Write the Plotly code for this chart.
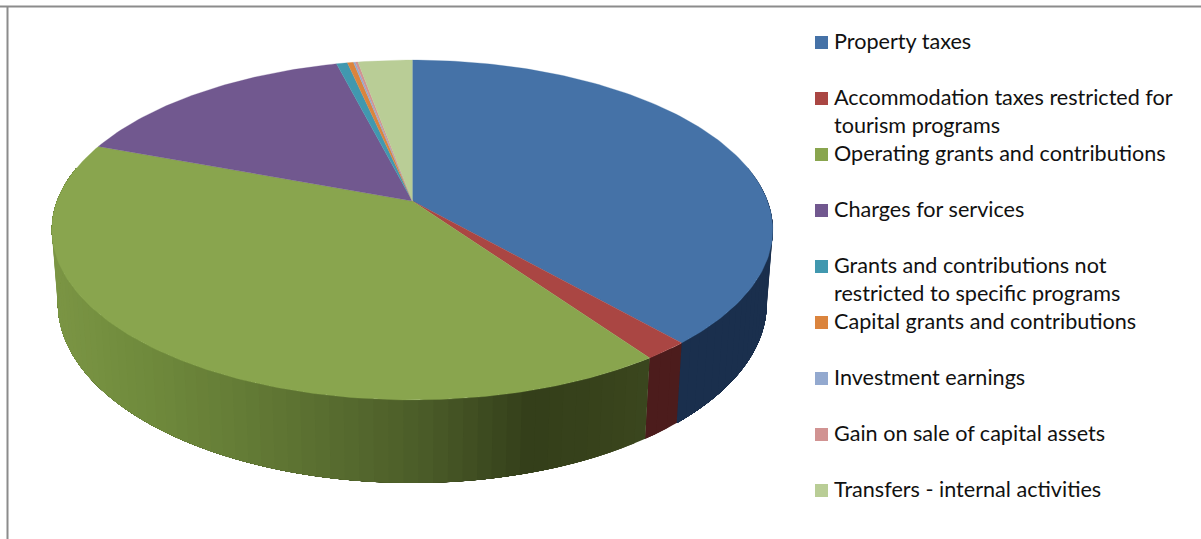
import numpy as np
import plotly.graph_objects as go

categories = ["Property taxes",
              "Accommodation taxes restricted for<br>tourism programs",
              "Operating grants and contributions",
              "Charges for services",
              "Grants and contributions not<br>restricted to specific programs",
              "Capital grants and contributions",
              "Investment earnings",
              "Gain on sale of capital assets",
              "Transfers - internal activities"]
values = [38.5, 1.75, 40.45, 15.3, 0.58, 0.32, 0.1, 0.14, 2.86]
colors = ["#4572A7", "#AA4643", "#89A54E", "#71588F", "#4198AF",
          "#DB843D", "#93A9CF", "#D19392", "#B9CD96"]
wall_base = {0: [(680, "#1A2F4D"), (775, "#1A2F4D")],
             1: [(640, "#4C1C1C"), (690, "#4C1C1C")],
             2: [(50, "#7C9645"), (130, "#728D3E"), (230, "#667E37"), (330, "#596D30"),
                 (430, "#4A5B28"), (530, "#343F1A"), (600, "#38431C"), (660, "#3C481F")]}
legend_y = [42.5, 98.5, 154.5, 210.5, 266.5, 322.5, 378.5, 434.5, 490.5]
text_y = [40.5, 110.5, 152.5, 208.5, 278.5, 320.5, 376.5, 432.5, 488.5]

# Projection of the tilted disc
CX, CY, B, A, P = 412.3, 201.0, 355.2, 165.0, 0.1706
Q, H = 0.0165, 73.5


def top(t):
    X, Y = np.sin(t), np.cos(t)
    w = 1 + P * Y
    return CX + B * X / w, CY - A * Y / w


def bottom(t):
    X, Y = np.sin(t), np.cos(t)
    w = 1 + Q + P * Y
    return CX + B * X / w, CY + (H - A * Y) / w


def hex2rgb(h):
    return np.array([int(h[i:i + 2], 16) for i in (1, 3, 5)], float)


def wall_colour(stops, x):
    xs = [s[0] for s in stops]
    rgb = np.array([hex2rgb(s[1]) for s in stops])
    c = [np.interp(x, xs, rgb[:, k]) for k in range(3)]
    return "rgb(%d,%d,%d)" % tuple(c)


fig = go.Figure()
edges = np.cumsum([0] + values) / sum(values) * 2 * np.pi

# side walls (front-facing part only); every strip runs from its start to the slice end,
# later strips paint over earlier ones so no seams show
for i, stops in wall_base.items():
    a0, a1 = edges[i], min(edges[i + 1], np.radians(282))
    a0 = max(a0, np.radians(78))
    n = max(2, int(np.degrees(a1 - a0) / 2.0))
    ts = np.linspace(a0, a1, n + 1)
    for u, v in zip(ts[:-1], ts[1:]):
        arc = np.linspace(u, a1, max(2, int(np.degrees(a1 - u)) + 2))
        tx, ty = top(arc)
        bx, by = bottom(arc[::-1])
        c = wall_colour(stops, float(np.mean([top(u)[0], top(v)[0], bottom(u)[0], bottom(v)[0]])))
        fig.add_trace(go.Scatter(x=[*tx, *bx, tx[0]], y=[*ty, *by, ty[0]],
                                 mode="none", fill="toself", fillcolor=c,
                                 hoverinfo="skip", showlegend=False))

# top face
for i, name in enumerate(categories):
    ts = np.linspace(edges[i], edges[i + 1], max(3, int(np.degrees(edges[i + 1] - edges[i]))))
    xs, ys = top(ts)
    fig.add_trace(go.Scatter(x=[CX, *xs, CX], y=[CY, *ys, CY], mode="lines", fill="toself",
                             fillcolor=colors[i], line=dict(color=colors[i], width=0.3),
                             name=name.replace("<br>", " "), showlegend=False,
                             hoverinfo="name"))

# legend keys
fig.add_trace(go.Scatter(x=[821.5] * len(categories), y=legend_y, mode="markers",
                         marker=dict(symbol="square", size=13, color=colors, line=dict(width=0)),
                         hoverinfo="skip", showlegend=False))

annotations = [dict(x=832, y=y, xref="x", yref="y", text=c, showarrow=False, xanchor="left",
                    yanchor="middle", align="left",
                    font=dict(family="Lato", size=21.6, color="#111111"))
               for c, y in zip(categories, text_y)]

shapes = [dict(type="line", x0=0, x1=1201, y0=6.5, y1=6.5, xref="x", yref="y",
               line=dict(color="#8C8C8C", width=2), layer="below"),
          dict(type="line", x0=7.5, x1=7.5, y0=6, y1=539, xref="x", yref="y",
               line=dict(color="#8C8C8C", width=2), layer="below")]

fig.update_layout(width=1201, height=539, margin=dict(l=0, r=0, t=0, b=0),
                  paper_bgcolor="white", plot_bgcolor="white",
                  xaxis=dict(range=[0, 1201], visible=False, fixedrange=True),
                  yaxis=dict(range=[539, 0], visible=False, fixedrange=True),
                  annotations=annotations, shapes=shapes, showlegend=False)
fig.write_html("out.html", post_script="document.body.style.margin='0';",
               config={"displayModeBar": False})
